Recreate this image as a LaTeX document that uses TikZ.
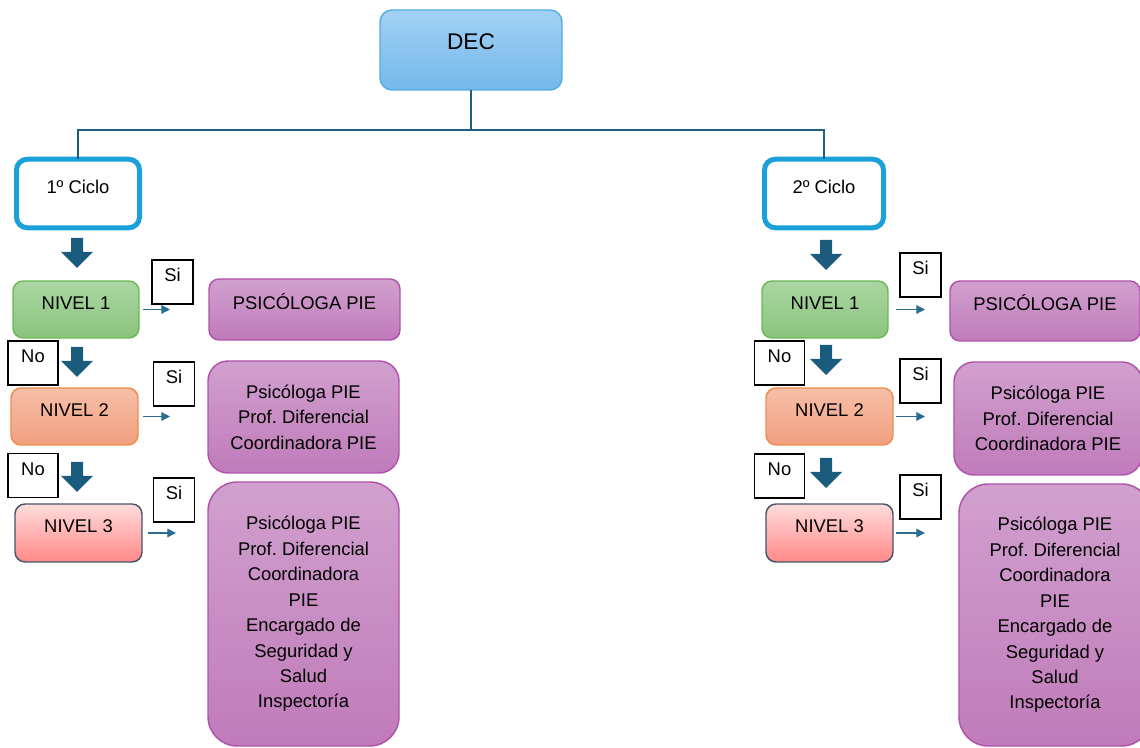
\documentclass[tikz,border=0pt]{standalone}
\usepackage{fontspec}
\setmainfont{Liberation Sans}
\usetikzlibrary{arrows.meta,positioning,calc}
\pgfkeys{/tikz/>=Stealth}
\frenchspacing

\definecolor{decTop}{HTML}{A2D1F5}
\definecolor{decBot}{HTML}{74B8EA}
\definecolor{decLine}{HTML}{52ADE0}
\definecolor{cicLine}{HTML}{1BA1D9}
\definecolor{trunk}{HTML}{1F5E7E}
\definecolor{darrow}{HTML}{1B5C7E}
\definecolor{greenTop}{HTML}{AAD6A1}
\definecolor{greenBot}{HTML}{8AC47D}
\definecolor{greenLine}{HTML}{6DB755}
\definecolor{orangeTop}{HTML}{F6BFA8}
\definecolor{orangeBot}{HTML}{F1A07F}
\definecolor{orangeLine}{HTML}{EE8C4E}
\definecolor{redTop}{HTML}{FFDCDC}
\definecolor{redBot}{HTML}{FF8888}
\definecolor{redLine}{HTML}{44546A}
\definecolor{purTop}{HTML}{D1A0CE}
\definecolor{purBot}{HTML}{C07BBA}
\definecolor{purLine}{HTML}{B052AB}
\definecolor{siarrow}{HTML}{2B6C93}

\begin{document}
\begin{tikzpicture}[x=0.75pt,y=-0.75pt,
    every node/.style={font=\fontsize{13.8}{19.1}\selectfont, inner sep=0pt, outer sep=0pt},
    oneline/.style={text height=10pt, text depth=10pt},
    box/.style={draw, rounded corners=7.5pt, line width=1.1pt, align=center},
    decbox/.style={box, top color=decTop, bottom color=decBot, draw=decLine,
        rounded corners=9pt, oneline, font=\fontsize{17}{20}\selectfont},
    ciclo/.style={draw=cicLine, fill=white, line width=3.75pt, rounded corners=8pt, oneline},
    nivA/.style={box, oneline, top color=greenTop, bottom color=greenBot, draw=greenLine},
    nivB/.style={box, oneline, top color=orangeTop, bottom color=orangeBot, draw=orangeLine},
    nivC/.style={box, oneline, top color=redTop, bottom color=redBot, draw=redLine},
    apoyo/.style={box, top color=purTop, bottom color=purBot, draw=purLine},
    sibox/.style={draw, fill=white, line width=1pt, oneline, minimum width=30.75pt, minimum height=33pt},
    nobox/.style={sibox, minimum width=37.5pt},
    sia/.style={draw=siarrow, line width=0.9pt, -{Triangle[length=6.5pt,width=6.5pt]}},
    bigarrow/.style={fill=darrow}]
  \useasboundingbox (0,0) rectangle (1140,748);

  % top of the chart
  \node[decbox, minimum width=136.5pt, minimum height=60pt] (dec) at (471,50) {DEC};
  \node[ciclo, minimum width=92.25pt, minimum height=51.4pt] (c1) at (78,193.5) {1º Ciclo};
  \node[ciclo, minimum width=89.25pt, minimum height=51.4pt] (c2) at (824,193.5) {2º Ciclo};

  \coordinate (bus) at (471,130);
  \draw[trunk, line width=1.5pt] (dec) -- (bus) -| (c1.north);
  \draw[trunk, line width=1.5pt] (bus) -| (c2.north);

  % levels, 1st cycle
  \node[nivA, minimum width=94.5pt, minimum height=42.75pt] (n1L) at (76,309.5) {NIVEL 1};
  \node[nivB, minimum width=95.25pt, minimum height=42.75pt] (n2L) at (74.5,416.5) {NIVEL 2};
  \node[nivC, minimum width=95.25pt, minimum height=43.5pt] (n3L) at (78.5,533) {NIVEL 3};

  % levels, 2nd cycle
  \node[nivA, minimum width=94.5pt, minimum height=42.75pt] (n1R) at (825,309.5) {NIVEL 1};
  \node[nivB, minimum width=95.25pt, minimum height=42.75pt] (n2R) at (829.5,416.5) {NIVEL 2};
  \node[nivC, minimum width=95.25pt, minimum height=43.5pt] (n3R) at (829.5,533) {NIVEL 3};

  % Si / No labels
  \node[sibox] (s1L) at (172.5,282) {Si};
  \node[sibox] (s2L) at (174,384) {Si};
  \node[sibox] (s3L) at (174,500) {Si};
  \node[sibox] (s1R) at (920.5,275) {Si};
  \node[sibox] (s2R) at (920.5,381) {Si};
  \node[sibox] (s3R) at (920.5,497) {Si};
  \node[nobox] (no1L) at (33,363) {No};
  \node[nobox] (no2L) at (33,475.5) {No};
  \node[nobox] (no1R) at (779.5,363) {No};
  \node[nobox] (no2R) at (779.5,476) {No};

  % who takes part
  \node[apoyo, oneline, minimum width=143.25pt, minimum height=45.75pt] (p1L) at (304.5,309.5) {PSICÓLOGA PIE};
  \node[apoyo, rounded corners=15pt, minimum width=143.25pt, minimum height=84pt] (p2L) at (303.5,417)
    {Psicóloga PIE\\Prof. Diferencial\\Coordinadora PIE};
  \node[apoyo, rounded corners=22pt, minimum width=143.25pt, minimum height=198pt] (p3L) at (303.5,614)
    {Psicóloga PIE\\Prof. Diferencial\\Coordinadora\\PIE\\Encargado de\\Seguridad y\\Salud\\Inspectoría};
  \node[apoyo, oneline, minimum width=142.5pt, minimum height=45pt] (p1R) at (1045,311) {PSICÓLOGA PIE};
  \node[apoyo, rounded corners=15pt, minimum width=141pt, minimum height=84.75pt] (p2R) at (1048,418.5)
    {Psicóloga PIE\\Prof. Diferencial\\Coordinadora PIE};
  \node[apoyo, rounded corners=22pt, minimum width=144pt, minimum height=196.5pt] (p3R) at (1055,615)
    {Psicóloga PIE\\Prof. Diferencial\\Coordinadora\\PIE\\Encargado de\\Seguridad y\\Salud\\Inspectoría};

  % block arrows down
  \foreach \ax/\ay in {77/238, 77/347, 77/462, 826/240, 826/345, 826/458}
    \fill[bigarrow] (\ax-6,\ay) -- (\ax+6,\ay) -- (\ax+6,\ay+14) -- (\ax+16,\ay+14)
      -- (\ax,\ay+30) -- (\ax-16,\ay+14) -- (\ax-6,\ay+14) -- cycle;

  % small arrows to the support boxes
  \draw[sia, shorten <=3pt, shorten >=29.25pt] (n1L.east) -- (n1L.east -| p1L.west);
  \draw[sia, shorten <=3.75pt, shorten >=28.5pt] (n2L.east) -- (n2L.east -| p2L.west);
  \draw[sia, shorten <=4.5pt, shorten >=24pt] (n3L.east) -- (n3L.east -| p3L.west);
  \draw[sia, shorten <=6pt, shorten >=18.75pt] (n1R.east) -- (n1R.east -| p1R.west);
  \draw[sia, shorten <=2.25pt, shorten >=21.75pt] (n2R.east) -- (n2R.east -| p2R.west);
  \draw[sia, shorten <=2.25pt, shorten >=25.5pt] (n3R.east) -- (n3R.east -| p3R.west);
\end{tikzpicture}
\end{document}
